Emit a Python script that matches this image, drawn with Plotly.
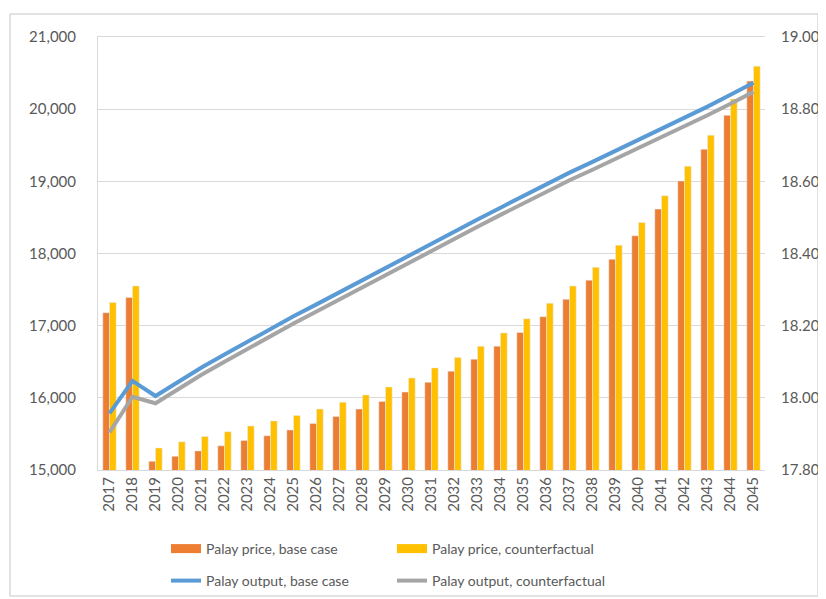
import plotly.graph_objects as go

# Palay: precio (eje izq.) y producción (eje der.), caso base vs contrafactual
anios = [str(a) for a in range(2017, 2046)]

precio_base = [17180, 17390, 15120, 15190, 15265, 15335, 15410, 15475, 15555, 15645,
               15740, 15845, 15950, 16080, 16215, 16370, 16535, 16715, 16905, 17125,
               17365, 17630, 17920, 18245, 18615, 19005, 19445, 19915, 20390]
precio_contra = [17320, 17550, 15305, 15390, 15465, 15530, 15610, 15680, 15755, 15845,
                 15940, 16040, 16150, 16275, 16415, 16560, 16715, 16900, 17095, 17310,
                 17550, 17810, 18115, 18430, 18800, 19210, 19640, 20140, 20595]

prod_base = [17.957, 18.047, 18.005, 18.045, 18.084, 18.120, 18.156, 18.191, 18.226, 18.259,
             18.293, 18.327, 18.360, 18.394, 18.427, 18.461, 18.494, 18.527, 18.560, 18.593,
             18.624, 18.654, 18.684, 18.714, 18.744, 18.775, 18.807, 18.840, 18.873]
prod_contra = [17.904, 18.003, 17.985, 18.025, 18.064, 18.100, 18.136, 18.171, 18.206, 18.239,
               18.273, 18.307, 18.340, 18.374, 18.407, 18.441, 18.474, 18.507, 18.539, 18.572,
               18.603, 18.632, 18.662, 18.691, 18.721, 18.751, 18.783, 18.815, 18.848]

GRIS_TXT = "#595959"
GRIS_LIN = "#D9D9D9"
FUENTE = "Lato"

fig = go.Figure()

# Barras de precio; la leyenda usa una entrada aparte para tener la muestra rectangular ancha
for nombre, valores, color in [("Palay price, base case", precio_base, "#ED7D31"),
                               ("Palay price, counterfactual", precio_contra, "#FFC000")]:
    fig.add_trace(go.Bar(x=anios, y=valores, name=nombre, marker_color=color,
                         legendgroup=nombre, showlegend=False))
    fig.add_trace(go.Scatter(x=[None], y=[None], mode="lines", name=nombre,
                             line=dict(color=color, width=9), legendgroup=nombre, legend="legend"))

fig.add_trace(go.Scatter(x=anios, y=prod_base, name="Palay output, base case", mode="lines",
                         line=dict(color="#5B9BD5", width=4), yaxis="y2", legend="legend2"))
fig.add_trace(go.Scatter(x=anios, y=prod_contra, name="Palay output, counterfactual", mode="lines",
                         line=dict(color="#A5A5A5", width=4), yaxis="y2", legend="legend2"))

W, H = 826, 599
OFF = 8  # margen del <body> de la página
ml, mt = 98 - OFF, 37 - OFF
pw, ph = 667, 433
mr, mb = W - ml - pw, H - mt - ph

# Leyendas en coordenadas del contenedor para que no empujen los márgenes
leyenda = dict(orientation="h", xanchor="left", yanchor="top", entrywidth=181,
               xref="container", yref="container",
               font=dict(family=FUENTE, size=14, color=GRIS_TXT), bgcolor="rgba(0,0,0,0)",
               traceorder="normal", itemclick=False)

fig.update_layout(
    width=W, height=H, margin=dict(l=ml, r=mr, t=mt, b=mb, autoexpand=False),
    paper_bgcolor="white", plot_bgcolor="white",
    barmode="group", bargap=0.42, bargroupgap=0,
    font=dict(family=FUENTE, size=15, color=GRIS_TXT),
    xaxis=dict(type="category", tickangle=-90, showgrid=False, ticks="", automargin=False,
               showline=True, linecolor=GRIS_LIN, linewidth=1, mirror=True,
               tickfont=dict(size=15, color=GRIS_TXT)),
    yaxis=dict(range=[15000, 21000], dtick=1000, tickformat=",.0f", automargin=False,
               showgrid=True, gridcolor=GRIS_LIN, gridwidth=1, zeroline=False,
               showline=True, linecolor=GRIS_LIN, ticks="", ticklabelstandoff=18),
    yaxis2=dict(range=[17.8, 19.0], dtick=0.2, tickformat=".2f", overlaying="y", side="right",
                automargin=False, showgrid=False, zeroline=False, showline=False, ticks="",
                ticklabelstandoff=15),
    legend=dict(leyenda, x=158 / W, y=1 - 525 / H),
    legend2=dict(leyenda, x=158 / W, y=1 - 557 / H),
)

# Marco exterior del gráfico
fig.add_shape(type="rect", xref="paper", yref="paper",
              x0=(10 - OFF - ml) / pw, x1=(818 - OFF - ml) / pw,
              y0=(ph + mt - (596 - OFF)) / ph, y1=(ph + mt - (14 - OFF)) / ph,
              line=dict(color=GRIS_LIN, width=1.5), layer="below")

fig.write_html("out.html")
